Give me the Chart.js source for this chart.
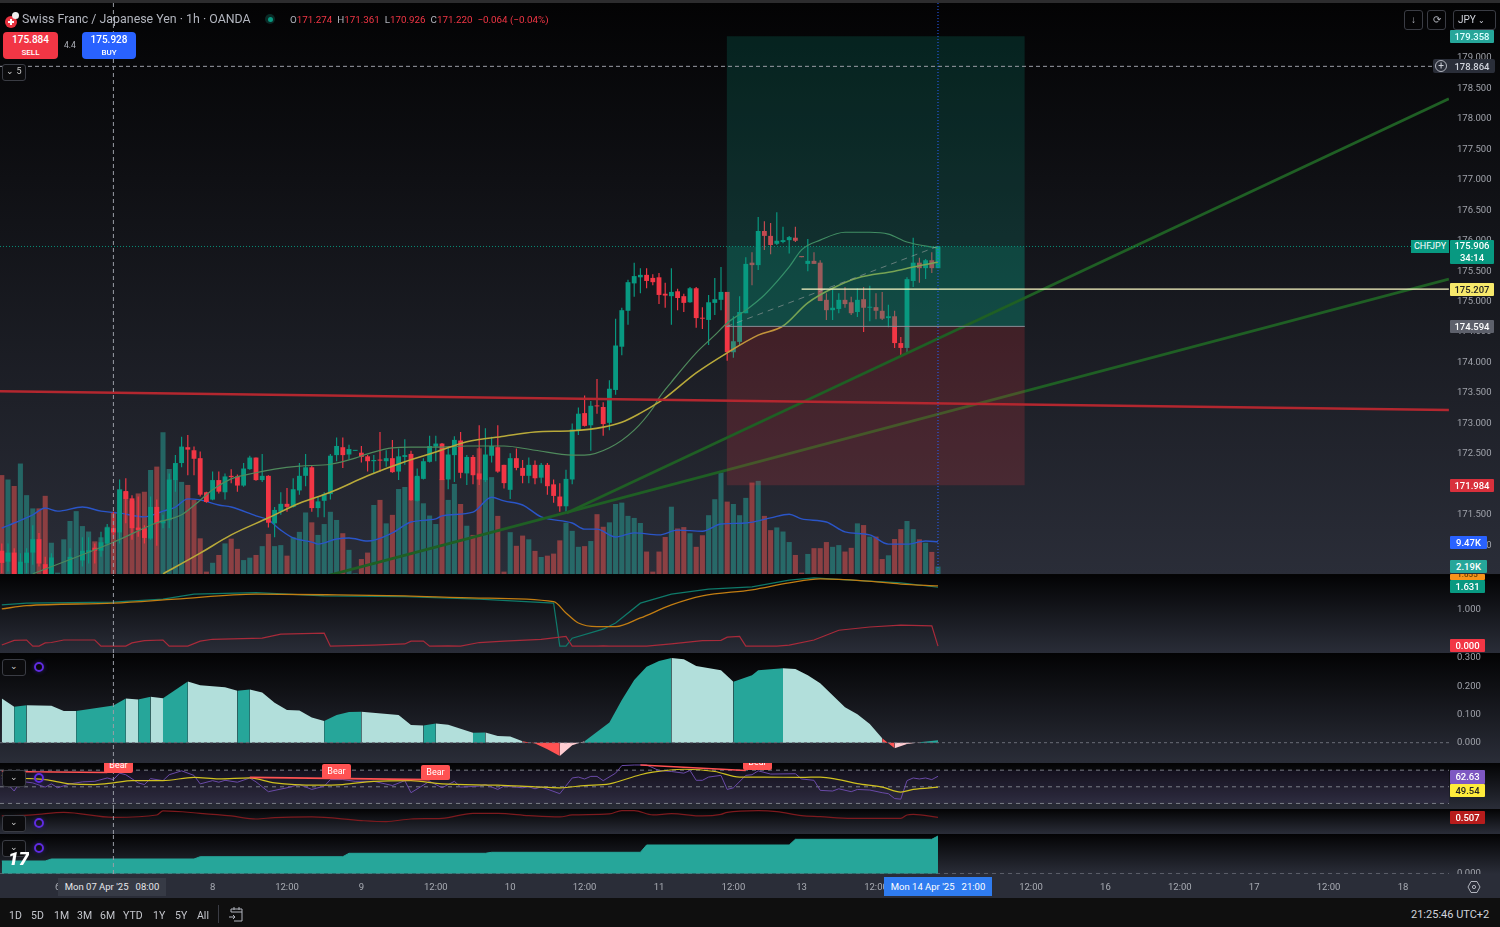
<!DOCTYPE html>
<html>
<head>
<meta charset="utf-8">
<title>CHFJPY 1h</title>
<script src="https://cdn.jsdelivr.net/npm/chart.js@4/dist/chart.umd.js"></script>
<style>
  html, body { margin: 0; padding: 0; background: #0f0f0f; width: 1500px; height: 927px; overflow: hidden; font-family: Roboto, sans-serif; }
  canvas { position: absolute; left: 0; display: block; }
  .pane { background: linear-gradient(#030304, #2a2d38); }
  .abs { position: absolute; white-space: nowrap; }
  .tag { position: absolute; left: 1450px; width: 44px; height: 13px; line-height: 13px; text-align: center; font-size: 9.5px; font-weight: 500; color: #fff; border-radius: 1px; }
  .btn { position: absolute; width: 22px; height: 15px; border: 1px solid #3a3c44; border-radius: 3px; background: #0b0b0d; color: #ccc; font-size: 9px; line-height: 13px; text-align: center; box-sizing: content-box; }
  .ring { position: absolute; width: 6px; height: 6px; border: 2px solid #5f2be0; border-radius: 50%; box-shadow: 0 0 4px #2a1a70; }
  .range { position: absolute; top: 909px; font-size: 10.5px; color: #c4c6cc; }
  .tool { position: absolute; top: 10px; height: 18px; border: 1px solid #3a3c44; border-radius: 3px; color: #b2b5be; font-size: 10px; line-height: 18px; text-align: center; }
  .bear { position: absolute; width: 29px; height: 15px; line-height: 15px; background: #ff5252; color: #fff; font-size: 9px; text-align: center; border-radius: 2px; }
</style>
</head>
<body>
<div class="abs" style="left:0;top:0;width:1500px;height:3px;background:#2c2c2e"></div>

<canvas id="mainPane" class="pane" width="1500" height="571" style="top:3px"></canvas>
<canvas id="adxPane" class="pane" width="1500" height="78" style="top:575px"></canvas>
<canvas id="histPane" class="pane" width="1500" height="110" style="top:653px"></canvas>
<canvas id="rsiPane" class="pane" width="1500" height="46" style="top:763px"></canvas>
<canvas id="redPane" class="pane" width="1500" height="25" style="top:809px"></canvas>
<canvas id="areaPane" class="pane" width="1500" height="40" style="top:834px"></canvas>
<canvas id="timeAxis" width="1500" height="24" style="top:874px;background:#2a2d38"></canvas>
<div class="abs" style="left:0;top:574px;width:1500px;height:1px;background:#050505"></div>
<div class="abs" style="left:0;top:898px;width:1500px;height:29px;background:#0f0f0f"></div>

<!-- header -->
<div class="abs" style="left:5px;top:16px;width:12px;height:12px;border-radius:50%;background:#e8323f"></div>
<div class="abs" style="left:12px;top:12px;width:7px;height:7px;border-radius:50%;background:#eee"></div>
<div class="abs" style="left:8px;top:21px;width:6px;height:2px;background:#fff"></div>
<div class="abs" style="left:10px;top:19px;width:2px;height:6px;background:#fff"></div>
<div class="abs" style="left:22px;top:11px;font-size:12.4px;color:#b2b5be">Swiss Franc / Japanese Yen · 1h · OANDA</div>
<div class="abs" style="left:265px;top:14px;width:10px;height:10px;border-radius:50%;background:#0a2a26"></div>
<div class="abs" style="left:268px;top:17px;width:5px;height:5px;border-radius:50%;background:#089981"></div>
<div class="abs" style="left:290px;top:14px;font-size:9.8px;color:#b2b5be">O<span style="color:#f23645">171.274</span>&nbsp; H<span style="color:#f23645">171.361</span>&nbsp; L<span style="color:#f23645">170.926</span>&nbsp; C<span style="color:#f23645">171.220</span>&nbsp; <span style="color:#f23645">−0.064 (−0.04%)</span></div>
<div class="abs" style="left:3px;top:32px;width:55px;height:27px;background:#f23645;border-radius:4px;color:#fff;text-align:center;font-size:10px;font-weight:500;line-height:12px;padding-top:2px;box-sizing:border-box">175.884<br><span style="font-size:8px">SELL</span></div>
<div class="abs" style="left:64px;top:40px;font-size:8.5px;color:#b2b5be">4.4</div>
<div class="abs" style="left:82px;top:32px;width:54px;height:27px;background:#2962ff;border-radius:4px;color:#fff;text-align:center;font-size:10px;font-weight:500;line-height:12px;padding-top:2px;box-sizing:border-box">175.928<br><span style="font-size:8px">BUY</span></div>
<div class="btn" style="left:2px;top:64px">⌄ 5</div>
<div class="tool" style="left:1404px;width:17px">↓</div>
<div class="tool" style="left:1427px;width:17px">⟳</div>
<div class="tool" style="left:1453px;width:41px;color:#d1d4dc;text-align:left;text-indent:4px">JPY <span style="font-size:8px">⌄</span></div>

<!-- price axis tags -->
<div class="tag" style="top:30px;background:#26a69a;color:#dff">179.358</div>
<div class="abs" style="left:1433px;top:59px;width:62px;height:14px;background:#2a2e39;border-radius:2px"></div>
<div class="abs" style="left:1435px;top:60px;width:10px;height:10px;border:1px solid #b2b5be;border-radius:50%;color:#d1d4dc;font-size:10px;line-height:10px;text-align:center">+</div>
<div class="tag" style="top:60px;background:#2a2e39;color:#d1d4dc">178.864</div>
<div class="abs" style="left:1411px;top:240px;width:38px;height:13px;line-height:13px;background:#089981;color:#fff;font-size:9px;text-align:center">CHFJPY</div>
<div class="tag" style="top:240px;height:24px;background:#089981;line-height:12px">175.906<br>34:14</div>
<div class="tag" style="top:283px;background:#f7e96b;color:#222">175.207</div>
<div class="tag" style="top:320px;background:#5d606b">174.594</div>
<div class="tag" style="top:479px;background:#d8303c">171.984</div>
<div class="tag" style="top:536px;width:37px;background:#2962ff">9.47K</div>
<div class="tag" style="top:574px;height:6px;line-height:2px;width:35px;background:#f7931a;color:#5a3800;overflow:hidden;font-size:8px">1.655</div>
<div class="tag" style="top:560px;width:37px;background:#26a69a">2.19K</div>
<div class="tag" style="top:580px;width:35px;background:#089981">1.631</div>
<div class="tag" style="top:639px;width:35px;background:#f23645">0.000</div>
<div class="tag" style="top:770px;width:35px;height:14px;background:#7e57c2">62.63</div>
<div class="tag" style="top:784px;width:35px;background:#ffeb3b;color:#222">49.54</div>
<div class="tag" style="top:811px;width:35px;background:#b71c1c">0.507</div>

<!-- indicator pane controls -->
<div class="btn" style="left:2px;top:659px">⌄</div><div class="ring" style="left:34px;top:662px"></div>
<div class="btn" style="left:2px;top:770px">⌄</div><div class="ring" style="left:34px;top:773px"></div>
<div class="btn" style="left:2px;top:815px">⌄</div><div class="ring" style="left:34px;top:818px"></div>
<div class="btn" style="left:2px;top:840px">⌄</div><div class="ring" style="left:34px;top:843px"></div>
<div class="abs" style="left:8px;top:849px;height:16px;overflow:hidden;font-size:19px;line-height:19px;font-weight:900;font-style:italic;color:#fff">17</div>

<!-- Bear labels, clipped at the pane top -->
<div class="abs" style="left:0;top:763px;width:1449px;height:46px;overflow:hidden">
  <div class="bear" style="left:104px;top:-5px">Bear</div>
  <div class="bear" style="left:322px;top:1px">Bear</div>
  <div class="bear" style="left:421px;top:2px">Bear</div>
  <div class="bear" style="left:743px;top:-8px">Bear</div>
</div>

<!-- crosshair time labels -->
<div class="abs" style="left:58px;top:878px;width:108px;height:18px;line-height:18px;background:#363a45;color:#e6e7ea;font-size:9.5px;text-align:center">Mon 07 Apr '25 &nbsp; 08:00</div>
<div class="abs" style="left:884px;top:877px;width:108px;height:19px;line-height:19px;background:#2f7cf0;color:#fff;font-size:9.5px;text-align:center">Mon 14 Apr '25 &nbsp; 21:00</div>
<svg class="abs" style="left:1467px;top:880px" width="14" height="14" viewBox="0 0 14 14"><path d="M4 1.5h6L13 7l-3 5.5H4L1 7z" fill="none" stroke="#b2b5be"/><circle cx="7" cy="7" r="1.6" fill="none" stroke="#b2b5be"/></svg>

<!-- bottom bar -->
<div class="range" style="left:9px">1D</div><div class="range" style="left:31px">5D</div><div class="range" style="left:54px">1M</div>
<div class="range" style="left:77px">3M</div><div class="range" style="left:100px">6M</div><div class="range" style="left:123px">YTD</div>
<div class="range" style="left:153px">1Y</div><div class="range" style="left:175px">5Y</div><div class="range" style="left:197px">All</div>
<div class="abs" style="left:218px;top:905px;width:1px;height:18px;background:#3a3c44"></div>
<svg class="abs" style="left:228px;top:906px" width="16" height="16" viewBox="0 0 16 16"><path d="M3 6V3h11v12H6M3 6h11M6 1v3M11 1v3M1 11h6M5 9l2 2-2 2" fill="none" stroke="#b2b5be"/></svg>
<div class="abs" style="left:1411px;top:908px;font-size:11px;color:#d1d4dc">21:25:46 UTC+2</div>

<script>
// candles, one entry per 1h bar
const opens = [170.91,170.73,170.88,170.48,170.71,170.88,171.10,170.69,170.48,170.21,
  170.20,170.43,170.30,170.75,170.88,170.96,170.91,171.03,171.28,171.21,
  171.89,171.77,171.29,171.28,171.11,171.63,171.36,171.41,172.07,172.35,
  172.61,172.56,172.43,171.87,171.75,172.07,171.87,172.14,172.13,171.98,
  172.25,172.44,172.07,172.14,171.36,171.55,171.68,171.63,171.90,172.14,
  172.28,171.61,171.73,171.84,172.48,172.61,172.49,172.55,172.52,172.46,
  172.38,172.40,172.38,172.43,172.21,172.45,172.50,171.73,172.09,172.37,
  172.62,172.67,172.08,172.48,172.72,172.18,172.45,172.18,172.07,172.47,
  172.61,172.32,171.91,172.43,172.27,172.14,172.32,172.11,172.32,172.00,
  171.80,171.64,172.08,172.88,173.17,172.97,173.29,173.27,173.01,173.55,
  174.26,174.85,175.30,175.40,175.44,175.39,175.40,175.13,175.09,175.17,
  175.09,174.99,175.22,174.73,174.70,174.98,175.03,175.16,174.17,174.34,
  174.81,175.64,175.60,176.16,176.08,175.95,175.98,176.01,176.05,175.75,
  175.62,175.67,175.64,175.03,174.86,174.88,175.03,174.99,174.83,175.04,
  174.90,174.91,174.85,174.73,174.76,174.32,174.24,175.34,175.64,175.55,
  175.68,175.55];
const closes = [170.71,170.88,170.51,170.73,170.88,171.10,170.70,170.48,170.80,170.43,
  170.40,170.81,170.46,170.91,170.92,170.91,171.05,171.29,171.21,171.91,
  171.76,171.28,171.25,171.12,171.63,171.36,171.41,172.08,172.35,172.62,
  172.57,172.42,171.83,171.71,172.07,171.88,172.13,172.12,171.98,172.26,
  172.44,172.07,172.14,171.37,171.58,171.68,171.63,171.92,172.14,172.28,
  171.61,171.72,171.84,172.47,172.63,172.48,172.58,172.56,172.45,172.38,
  172.40,172.39,172.43,172.20,172.46,172.48,171.74,172.14,172.38,172.63,
  172.67,172.07,172.49,172.73,172.19,172.45,172.15,172.08,172.49,172.63,
  172.21,172.02,172.43,172.27,172.14,172.32,172.10,172.32,171.97,171.81,
  171.64,172.09,172.90,173.16,172.96,173.29,173.28,172.99,173.57,174.28,
  174.86,175.32,175.42,175.44,175.34,175.32,175.11,175.10,175.16,175.06,
  174.98,175.22,174.73,174.72,174.99,175.04,175.16,174.17,174.35,174.83,
  175.62,175.60,176.16,176.08,175.93,176.00,176.01,176.06,176.00,175.73,
  175.67,175.62,175.01,174.86,174.90,175.03,174.96,174.81,175.03,174.90,
  174.91,174.85,174.72,174.76,174.32,174.24,175.37,175.64,175.55,175.68,
  175.55,175.91];
const highs = [171.03,171.03,170.95,170.87,170.95,171.33,171.20,170.81,170.87,170.48,
  170.45,170.95,170.50,171.13,171.13,171.03,171.22,171.35,171.55,172.08,
  172.10,171.82,171.80,171.33,171.80,171.75,171.50,172.18,172.48,172.78,
  172.81,172.62,172.54,171.88,172.21,172.21,172.18,172.25,172.16,172.35,
  172.47,172.44,172.50,172.15,171.63,171.87,171.94,172.10,172.35,172.50,
  172.30,171.80,171.87,172.50,172.77,172.77,172.65,172.56,172.63,172.48,
  172.48,172.86,172.56,172.73,172.59,172.74,172.55,172.26,172.43,172.80,
  172.80,172.68,172.62,172.79,172.86,172.48,172.48,172.97,172.92,172.78,
  172.97,172.32,172.51,172.59,172.40,172.44,172.39,172.35,172.35,172.08,
  172.02,172.24,173.00,173.26,173.46,173.37,173.73,173.35,173.71,174.72,
  174.90,175.36,175.64,175.55,175.55,175.45,175.47,175.31,175.55,175.21,
  175.13,175.24,175.24,174.91,175.11,175.39,175.57,175.16,174.76,175.09,
  175.73,175.81,176.39,176.32,176.29,176.47,176.23,176.08,176.23,175.75,
  176.03,175.81,175.68,175.14,175.22,175.14,175.24,175.08,175.22,175.24,
  175.26,175.14,175.16,174.95,174.85,174.42,175.40,176.05,175.72,175.70,
  175.81,175.91];
const lows = [170.54,170.57,170.48,170.43,170.54,170.68,170.65,170.46,170.43,170.16,
  170.15,170.37,170.25,170.65,170.70,170.70,170.81,171.00,171.14,171.03,
  171.36,171.09,171.14,171.03,171.09,170.99,171.28,171.28,171.88,172.28,
  172.15,172.15,171.80,171.70,171.74,171.85,171.75,172.02,171.88,171.96,
  172.24,172.06,172.04,171.29,171.13,171.50,171.55,171.62,171.83,171.97,
  171.55,171.46,171.46,171.75,172.38,172.27,172.41,172.55,172.36,172.21,
  172.17,172.21,172.29,172.19,172.07,172.32,171.73,171.72,172.08,172.36,
  172.38,172.07,171.92,172.04,172.10,171.99,172.00,171.99,172.04,172.36,
  172.19,171.93,171.76,172.23,172.02,172.02,172.00,172.02,171.83,171.70,
  171.55,171.55,172.00,172.81,172.95,172.55,173.16,172.80,172.89,173.47,
  174.12,174.62,175.08,175.14,175.22,175.27,174.96,174.90,174.62,174.86,
  174.83,174.98,174.57,174.55,174.29,174.78,174.86,174.03,174.08,174.29,
  174.81,175.27,175.52,175.85,175.78,175.93,175.96,175.79,175.98,175.73,
  175.50,175.62,175.01,174.70,174.70,174.81,174.90,174.78,174.75,174.50,
  174.68,174.71,174.70,174.58,174.24,174.12,174.16,175.24,175.31,175.37,
  175.47,175.55];
// volume in thousands
const volumes = [29.1,27.8,25.9,32.5,23.2,19.3,19.3,23.0,9.2,0.4,10.2,15.6,18.5,14.1,12.5,9.6,10.8,13.9,18.3,25.0,
  24.2,21.6,23.7,24.2,30.6,31.6,41.7,30.9,27.8,27.1,26.2,21.8,10.5,0.7,3.3,5.6,9.0,10.4,7.4,4.1,
  4.8,5.6,8.2,11.8,8.2,8.5,5.4,10.8,12.4,18.1,15.2,11.5,14.7,18.3,15.9,12.0,7.1,0.2,4.4,6.3,
  20.3,21.8,14.9,17.4,25.0,25.6,21.8,28.6,20.8,17.2,14.7,27.9,21.8,26.5,20.6,14.2,11.5,37.0,28.1,28.5,
  17.1,0.7,12.3,8.3,11.3,10.2,6.8,5.0,5.4,6.0,9.9,15.1,12.7,8.0,8.2,9.7,17.6,13.9,15.2,20.6,
  21.0,17.1,16.5,15.0,6.6,0.7,6.6,10.9,19.8,13.4,13.8,12.0,8.0,11.4,17.3,22.0,29.9,21.3,20.6,17.3,
  22.4,26.9,27.4,17.1,12.9,13.7,12.5,9.4,5.6,0.4,5.9,7.6,7.6,9.4,8.0,8.5,6.6,7.7,14.9,14.4,
  11.0,11.0,4.4,5.5,10.3,13.2,15.6,13.2,10.2,9.2,6.5,2.19];

// moving averages on the main pane, sampled at the bars below
const fastMaBars = [5,18,25,29,32,34,37,41,44,48,53,57,59,63,66,70,75,81,86,92,94,98,102,105,106,108,112,115,117,120,123,127,129,132,136,140,143,146,151];
const fastMa = [170.53,171.05,171.37,171.50,171.74,171.91,172.09,172.19,172.25,172.30,172.33,172.43,172.50,172.60,172.61,172.61,172.63,172.63,172.56,172.48,172.48,172.60,172.89,173.25,173.42,173.68,174.16,174.45,174.65,174.86,175.11,175.57,175.85,176.01,176.14,176.14,176.11,175.98,175.88];
const slowMaBars = [26,32,37,43,48,53,59,65,70,75,81,86,92,97,100,103,106,107,112,117,122,126,130,134,138,144,147,151];
const slowMa = [170.53,170.87,171.17,171.45,171.69,171.87,172.14,172.37,172.53,172.70,172.79,172.86,172.88,172.94,173.02,173.17,173.35,173.42,173.83,174.16,174.45,174.60,174.98,175.22,175.39,175.50,175.57,175.65];
const volMaBars = [0,2,5,7,9,13,16,19,23,26,28,30,32,35,37,41,43,45,47,50,51,54,56,59,63,66,70,71,76,79,81,84,87,92,94,96,99,102,106,109,113,116,120,124,127,129,133,136,140,143,146,149,151];
const volMa = [13.5,15.0,17.4,19.4,18.5,19.7,18.5,17.9,16.8,18.5,19.7,22.1,21.8,20.3,19.7,17.1,15.9,12.9,10.6,9.4,8.8,10.3,10.6,9.7,12.1,15.3,16.2,17.1,18.2,22.6,21.5,20.3,16.8,15.0,13.2,13.2,10.9,12.1,11.5,12.9,12.6,14.7,15.0,16.5,17.6,16.2,15.3,12.4,11.5,8.8,8.8,9.7,9.47];

// drawings on the main pane
const priceTicks = [171,171.5,172,172.5,173,173.5,174,174.5,175,175.5,176,176.5,177,177.5,178,178.5,179];
const entryPrice = 174.594, targetPrice = 179.358, stopPrice = 171.984, lastPrice = 175.906, markPrice = 175.207, crossPrice = 178.864;
const boxBars = [116.9, 165];
const resistBars = [-0.3, 233.4], resistPrices = [173.53, 173.22];
const steepBars = [91.1, 233.4], steepPrices = [171.53, 178.33];
const flatBars = [52.9, 233.4], flatPrices = [170.51, 175.37];
const pathBars = [116.9, 151], pathPrices = [174.59, 175.91];
const markBars = [129, 233.4];
const crossBar = 18, lastBar = 151;

// second pane
const adxBars = [0,4,18,26,31,41,52,65,77,89,90,91,92,97,99,103,108,114,121,127,131,137,145,151];
const adxLine = [1.14,1.19,1.22,1.30,1.44,1.48,1.39,1.37,1.30,1.19,0,0,0.22,0.47,0.64,1.19,1.44,1.58,1.64,1.83,1.89,1.83,1.75,1.63];
const adxSmoothBars = [0,4,18,28,41,54,65,77,89,91,93,96,99,103,108,113,121,127,132,139,145,151];
const adxSmooth = [1.03,1.12,1.19,1.30,1.44,1.42,1.39,1.33,1.23,0.92,0.64,0.54,0.54,0.78,1.14,1.39,1.56,1.75,1.86,1.81,1.72,1.67];
const atrBars = [0,2,4,5,6,7,8,10,15,16,20,21,23,26,27,30,32,34,42,45,52,53,60,65,66,68,69,72,74,77,81,87,91,92,96,97,98,104,108,113,116,117,119,120,125,127,131,135,140,145,150,151];
const atrLine = [0.03,0.16,0.17,0,0,0.09,0.10,0.17,0.17,0,0,0.09,0.15,0.17,0,0,0.14,0.19,0.22,0.33,0.36,0,0.03,0.06,0.14,0.14,0,0.01,0,0.10,0.14,0.19,0.27,0,0,0.01,0,0,0.06,0.15,0.16,0.25,0.27,0,0,0.03,0.17,0.44,0.53,0.58,0.56,0];

// histogram pane
const histBars = [0,2,4,8,10,12,18,20,22,24,26,30,32,36,38,40,42,44,46,48,50,52,54,56,58,64,66,68,70,72,76,78,80,82,84,86,88,90,92,94,98,100,102,104,106,108,110,112,116,118,121,122,126,128,130,132,134,136,138,140,142,143,144,146,147,148,151];
const histValues = [0.157,0.127,0.133,0.131,0.112,0.112,0.132,0.157,0.153,0.163,0.158,0.217,0.204,0.197,0.184,0.189,0.178,0.142,0.116,0.114,0.089,0.077,0.098,0.109,0.110,0.098,0.063,0.061,0.068,0.064,0.035,0.036,0.024,0.022,0.005,-0.003,-0.023,-0.047,-0.009,0.005,0.072,0.151,0.222,0.269,0.290,0.300,0.296,0.272,0.257,0.216,0.239,0.257,0.264,0.261,0.239,0.211,0.168,0.126,0.101,0.066,0.016,-0.002,-0.020,-0.005,-0.002,0.002,0.009];
const histTicks = [0, 0.1, 0.2, 0.3];

// RSI pane
const rsiBars = [0,2,3,5,7,8,9,11,13,15,17,18,19,20,22,23,24,26,27,29,31,32,34,35,36,38,40,41,43,46,48,50,52,53,55,57,60,63,65,66,69,71,73,74,77,78,80,81,84,85,86,87,90,92,93,94,95,96,97,99,100,102,104,106,108,110,111,112,113,114,116,117,118,120,121,122,124,128,129,131,132,134,135,137,138,140,142,143,144,145,146,147,148,149,150,151];
const rsiLine = [60.6,44.9,56.6,54.7,49.6,53.5,48.8,53.5,55.9,56.6,60.6,58.6,66.4,64.5,54.7,52.7,59.8,57.4,64.5,69.2,63.7,53.5,57.4,55.5,57.8,55.5,60.6,55.9,44.1,48.8,52.7,46.8,50.8,58.6,58.6,56.6,56.6,51.5,57.4,42.9,56.6,48.8,56.6,49.6,50.8,52.7,46.8,50.8,48.8,50.0,47.6,49.9,41.7,60.6,61.7,59.4,62.5,62.5,57.4,66.4,75.5,76.2,76.2,69.6,68.4,66.4,69.6,57.8,57.8,61.7,63.7,46.8,48.8,63.7,64.5,69.2,65.3,65.7,59.4,57.8,45.7,44.9,47.6,44.1,46.8,46.1,42.9,41.7,35.9,35.1,57.4,60.6,59.4,60.6,58.6,62.63];
const rsiMaBars = [0,3,7,11,15,18,21,26,31,35,40,44,51,55,60,66,71,80,86,90,94,98,103,105,110,115,119,123,129,132,135,138,142,145,147,151];
const rsiMa = [63.7,60.6,58.6,53.5,52.7,54.7,57.4,57.4,61.3,59.4,60.6,54.7,51.9,52.7,56.6,57.4,53.5,51.9,50.0,48.8,51.5,53.5,64.5,67.6,71.1,68.4,61.7,61.7,61.3,61.7,58.6,53.9,49.6,43.7,46.8,49.54];
const bearBars = [[0,17],[40,69],[103,120]];
const bearValues = [[68.4,67.2],[61.3,58.6],[76.2,69.5]];
const rsiLevels = [70, 50, 30];

// thin red pane
const redBars = [0,5,10,18,25,26,32,37,41,44,50,58,62,66,71,76,80,85,90,92,98,100,102,105,108,113,116,117,122,125,129,132,137,145,146,147,151];
const redLine = [0.54,0.565,0.632,0.507,0.565,0.665,0.607,0.54,0.465,0.499,0.515,0.424,0.399,0.465,0.482,0.607,0.607,0.549,0.515,0.565,0.59,0.674,0.674,0.565,0.599,0.54,0.582,0.632,0.674,0.649,0.549,0.524,0.482,0.482,0.565,0.582,0.507];

// stepped area pane
const stepBars = [0,7,8,31,32,55,56,78,79,103,104,127,128,150,151];
const stepValues = [1.25,1.25,1.45,1.45,1.68,1.68,2.02,2.02,2.12,2.12,2.85,2.85,3.42,3.42,3.75];

// time axis
const timeBars = [9,34,46,58,70,82,94,106,118,129,141,166,178,190,202,214,226];
const timeLabels = ["6","8","12:00","9","12:00","10","12:00","11","12:00","13","12:00","12:00","16","12:00","17","12:00","18"];

const xMin = -0.29, xMax = 233.42;
const GREEN = "#089981", RED = "#f23645";
const axisText = "#a0a3ab";

function series(xs, ys, color, width, order, extra) {
    return Object.assign({
        type: "line",
        data: xs.map((x, i) => ({ x: x, y: ys[i] })),
        borderColor: color,
        borderWidth: width,
        pointRadius: 0,
        fill: false,
        order: order
    }, extra || {});
}

function smooth(xs, ys, color, width, order, extra) {
    return series(xs, ys, color, width, order, Object.assign({ cubicInterpolationMode: "monotone" }, extra || {}));
}

function band(xs, top, bottom, color, order) {
    return series(xs, [top, top], "transparent", 0, order, { fill: { value: bottom }, backgroundColor: color });
}

function hline(y, color, width, order, dash) {
    return series([xMin, xMax], [y, y], color, width, order, { borderDash: dash || [] });
}

function crosshair(lo, hi, order) {
    return series([crossBar, crossBar], [lo, hi], "#9a9da6", 1, order, { borderDash: [4, 3] });
}

function yAxis(min, max, ticks, fmt) {
    return {
        position: "right",
        min: min,
        max: max,
        grid: { display: false, drawTicks: false },
        border: { display: false },
        ticks: {
            color: axisText,
            font: { family: "Roboto", size: 9.5 },
            padding: 8,
            autoSkip: false,
            display: ticks.length > 0,
            callback: fmt
        },
        afterBuildTicks: function (scale) {
            scale.ticks = ticks.map(v => ({ value: v }));
        },
        afterFit: function (scale) {
            scale.width = 51;
            scale.paddingTop = 0;
            scale.paddingBottom = 0;
        }
    };
}

function makePane(id, yScale, datasets, extraScales) {
    const ctx = document.getElementById(id).getContext("2d");
    return new Chart(ctx, {
        type: "bar",
        data: { datasets: datasets },
        options: {
            responsive: false,
            animation: false,
            devicePixelRatio: 1,
            layout: { padding: 0 },
            plugins: { legend: { display: false }, tooltip: { enabled: false } },
            scales: Object.assign({
                x: { type: "linear", display: false, min: xMin, max: xMax, offset: false },
                y: yScale
            }, extraScales || {})
        }
    });
}

const barIndex = closes.map((_, i) => i);
const candleColors = closes.map((c, i) => c >= opens[i] ? GREEN : RED);
const volColors = closes.map((c, i) => c >= opens[i] ? "rgba(38,166,154,0.5)" : "rgba(239,83,80,0.5)");

// main pane: 3px .. 574px of the page
const mainMax = 179.904, mainMin = 170.528;
const mainDatasets = [
    {
        type: "bar", yAxisID: "vol", order: 100, grouped: false,
        data: barIndex.map(i => ({ x: i, y: volumes[i] })),
        backgroundColor: volColors, barPercentage: 0.82, categoryPercentage: 1
    },
    smooth(volMaBars, volMa, "#2a55c8", 1.4, 90, { yAxisID: "vol" }),
    {
        type: "bar", order: 80, grouped: false,
        data: barIndex.map(i => ({ x: i, y: [lows[i], highs[i]] })),
        backgroundColor: candleColors, barPercentage: 0.19, categoryPercentage: 1
    },
    {
        type: "bar", order: 79, grouped: false, minBarLength: 1,
        data: barIndex.map(i => ({ x: i, y: [opens[i], closes[i]] })),
        backgroundColor: candleColors, barPercentage: 0.78, categoryPercentage: 1
    },
    smooth(fastMaBars, fastMa, "#4f8a5c", 1.2, 70),
    smooth(slowMaBars, slowMa, "#b9aa3a", 1.6, 69),
    series(flatBars, flatPrices, "#1f5f24", 2.8, 65),
    band(boxBars, targetPrice, entryPrice, "rgba(8,153,129,0.2)", 60),
    band(boxBars, lastPrice, entryPrice, "rgba(8,153,129,0.22)", 59),
    band(boxBars, entryPrice, stopPrice, "rgba(242,54,69,0.18)", 58),
    series(steepBars, steepPrices, "#1f5f24", 2.8, 50),
    series(resistBars, resistPrices, "#b3272f", 2.4, 49),
    series(pathBars, pathPrices, "rgba(170,170,170,0.55)", 1, 48, { borderDash: [6, 5] }),
    series(markBars, [markPrice, markPrice], "#fbf9c4", 1.2, 47),
    series(boxBars, [entryPrice, entryPrice], "#8a8d96", 1, 46),
    hline(lastPrice, "rgba(8,153,129,0.9)", 1, 45, [1, 2]),
    hline(crossPrice, "#9a9da6", 1, 44, [4, 3]),
    crosshair(mainMin, mainMax, 43),
    series([lastBar, lastBar], [mainMin, mainMax], "#2962ff", 1, 42, { borderDash: [1, 2] })
];
makePane("mainPane", yAxis(mainMin, mainMax, priceTicks, v => v.toFixed(3)), mainDatasets, {
    vol: { display: false, min: 0, max: 168 }
});

// adx style pane
makePane("adxPane", yAxis(-0.19, 1.97, [1], v => v.toFixed(3)), [
    smooth(adxBars, adxLine, "#0f7a6a", 1.2, 5, { cubicInterpolationMode: "default" }),
    smooth(adxSmoothBars, adxSmooth, "#c27d12", 1.3, 4),
    series(atrBars, atrLine, "#a82a3a", 1.2, 3),
    crosshair(-0.19, 1.97, 1)
]);

// histogram pane: colour follows rising / falling
function histColor(ctx) {
    const a = ctx.p0.parsed.y, b = ctx.p1.parsed.y;
    const rising = b > a;
    if (a < 0 || b < 0) return rising ? "#ffcdd2" : "#ff5252";
    return rising ? "#26a69a" : "#b2dfdb";
}
makePane("histPane", yAxis(-0.072, 0.318, histTicks, v => v.toFixed(3)), [
    series(histBars, histValues, "transparent", 0, 5, {
        fill: { value: 0 },
        backgroundColor: "#26a69a",
        segment: { backgroundColor: histColor }
    }),
    hline(0, "#6a6d78", 1, 4, [3, 3]),
    crosshair(-0.072, 0.318, 1)
]);

// RSI pane
const rsiDatasets = [
    band([xMin, xMax], rsiLevels[0], rsiLevels[2], "rgba(126,87,194,0.1)", 9),
    hline(rsiLevels[0], "#7b7e88", 1, 8, [4, 4]),
    hline(rsiLevels[1], "#7b7e88", 1, 7, [4, 4]),
    hline(rsiLevels[2], "#7b7e88", 1, 6, [4, 4]),
    series(rsiBars, rsiLine, "#6a4aa8", 1, 5),
    smooth(rsiMaBars, rsiMa, "#cfc020", 1.2, 4),
    crosshair(23.3, 78.6, 1)
];
bearBars.forEach((xs, i) => rsiDatasets.push(series(xs, bearValues[i], "#ff5252", 1.6, 3)));
makePane("rsiPane", yAxis(23.3, 78.6, [], v => v), rsiDatasets);

// thin red pane
makePane("redPane", yAxis(0.09, 0.714, [], v => v), [
    smooth(redBars, redLine, "#7d1a1e", 1.2, 3),
    crosshair(0.09, 0.714, 1)
]);

// stepped area pane
makePane("areaPane", yAxis(-0.05, 3.95, [0], v => v.toFixed(3)), [
    series(stepBars, stepValues, "#26a69a", 1, 3, { fill: { value: 0 }, backgroundColor: "#26a69a" }),
    hline(0, "#5a5d68", 1, 4, [4, 4]),
    crosshair(-0.05, 3.95, 1)
]);

// time axis
new Chart(document.getElementById("timeAxis").getContext("2d"), {
    type: "line",
    data: { datasets: [] },
    options: {
        responsive: false,
        animation: false,
        devicePixelRatio: 1,
        layout: { padding: { right: 51 } },
        plugins: { legend: { display: false }, tooltip: { enabled: false } },
        scales: {
            y: { display: false },
            x: {
                type: "linear",
                min: xMin,
                max: xMax,
                grid: { display: false, drawTicks: false },
                border: { display: false },
                ticks: {
                    color: "#a8abb3",
                    font: { family: "Roboto", size: 9.5 },
                    padding: 4,
                    autoSkip: false,
                    maxRotation: 0,
                    callback: v => timeLabels[timeBars.indexOf(v)]
                },
                afterBuildTicks: function (scale) {
                    scale.ticks = timeBars.map(v => ({ value: v }));
                },
                afterFit: function (scale) {
                    scale.height = 20;
                    scale.paddingLeft = 0;
                    scale.paddingRight = 0;
                }
            }
        }
    }
});
</script>
</body>
</html>
